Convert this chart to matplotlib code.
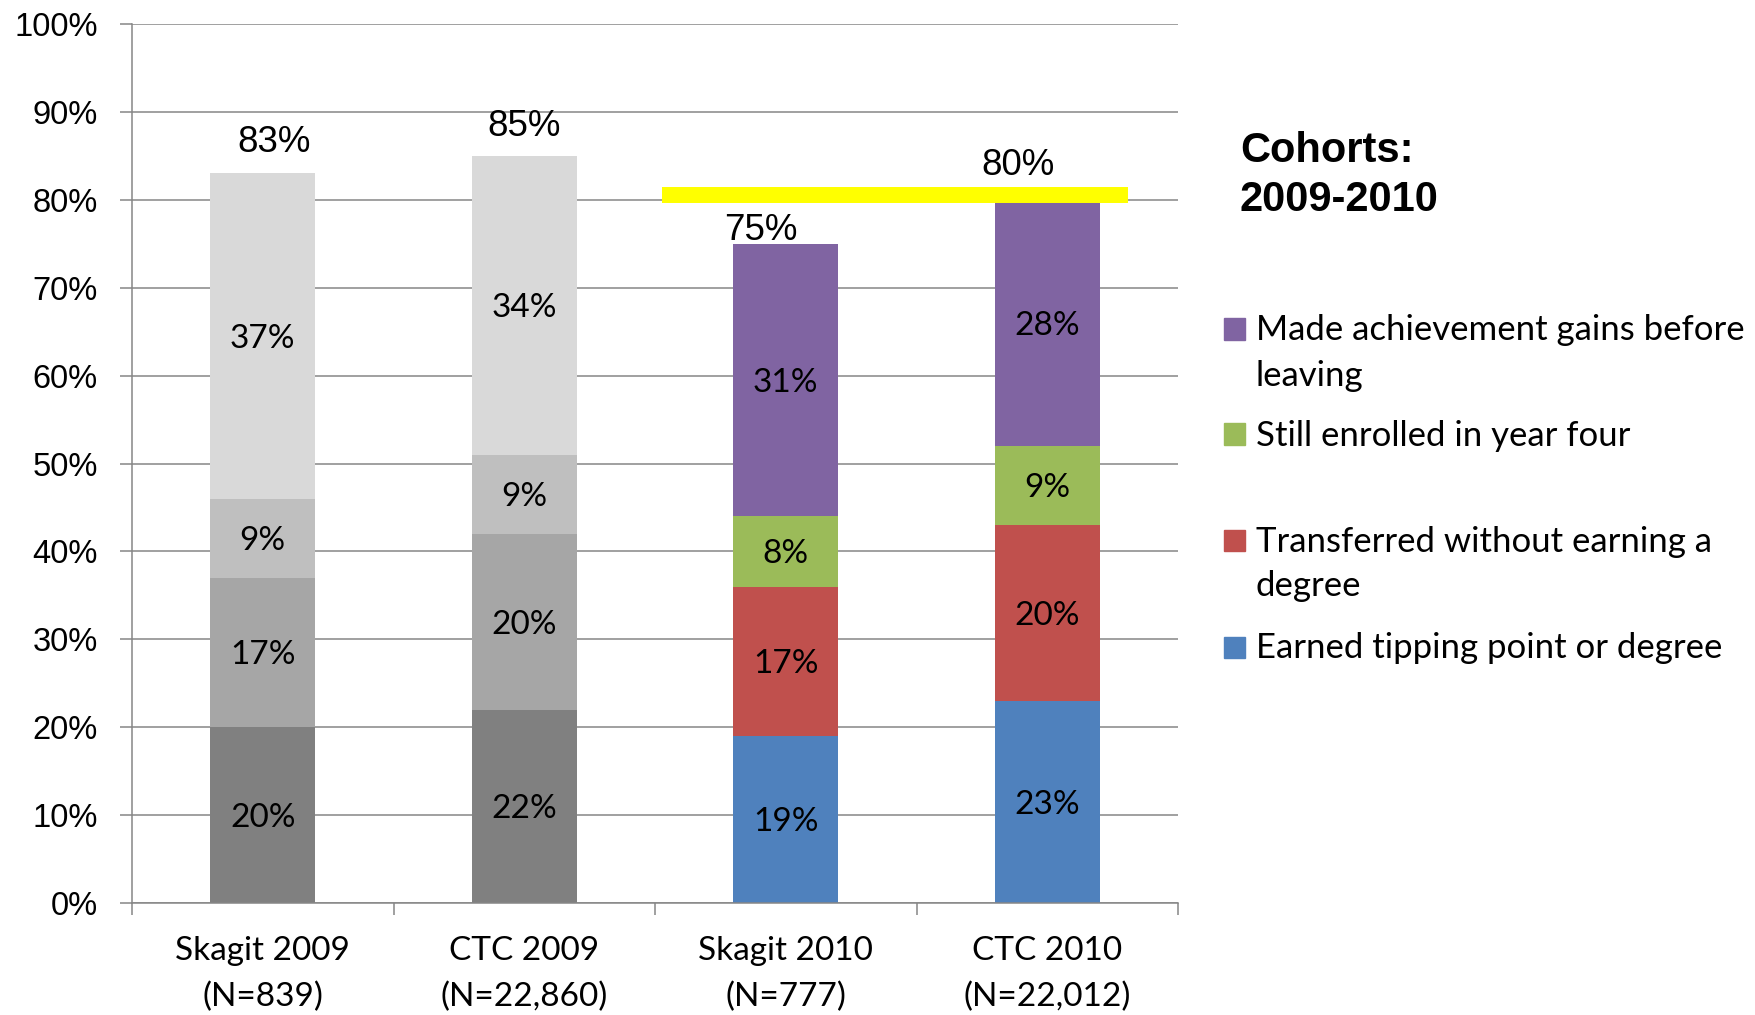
import matplotlib
matplotlib.use("Agg")
import matplotlib.pyplot as plt
import matplotlib.transforms as mtransforms
import numpy as np

# ---------------- data ----------------
categories = ["Skagit 2009", "CTC 2009", "Skagit 2010", "CTC 2010"]
cohort_sizes = ["(N=839)", "(N=22,860)", "(N=777)", "(N=22,012)"]
earned = [20, 22, 19, 23]
transferred = [17, 20, 17, 20]
still_enrolled = [9, 9, 8, 9]
gains = [37, 34, 31, 28]
totals = [83, 85, 75, 80]
series_names = ["Made achievement gains before\nleaving",
                "Still enrolled in year four",
                "Transferred without earning a\ndegree",
                "Earned tipping point or degree"]
y_ticks = [0, 10, 20, 30, 40, 50, 60, 70, 80, 90, 100]
legend_title = "Cohorts:\n2009-2010"

# ---------------- style ----------------
W, H = 1756, 1015
DPI = 100
gray_cols = ["#808080", "#A6A6A6", "#BFBFBF", "#D9D9D9"]   # bottom -> top
color_cols = ["#4F81BD", "#C0504D", "#9BBB59", "#8064A2"]  # bottom -> top
bar_colors = [gray_cols, gray_cols, color_cols, color_cols]
grid_col = "#868686"
ARIAL = ["Liberation Sans", "DejaVu Sans"]
CALIBRI = ["Lato", "DejaVu Sans"]

fig = plt.figure(figsize=(W / DPI, H / DPI), dpi=DPI)
ax = fig.add_axes([132 / W, 1 - 903 / H, (1178 - 132) / W, (903 - 24) / H])

data_shift = mtransforms.offset_copy(ax.transData, fig=fig, x=0, y=-3, units="dots")

x = np.arange(len(categories))
stack = [earned, transferred, still_enrolled, gains]
bottom = np.zeros(len(categories))
for li, vals in enumerate(stack):
    vals = np.array(vals, dtype=float) / 100.0
    cols = [bar_colors[i][li] for i in range(len(categories))]
    ax.bar(x, vals, width=0.4, bottom=bottom, color=cols, edgecolor="none", zorder=2)
    for i, v in enumerate(vals):
        ax.text(x[i], bottom[i] + v / 2, f"{int(round(v * 100))}%", ha="center", va="center",
                fontsize=24, family=CALIBRI, color="black", zorder=4, transform=data_shift)
    bottom = bottom + vals

# total labels (offsets in data units, as placed in the reference)
tot_dx = [0.042, 0.0, -0.096, -0.11]
tot_dy = [0.039, 0.037, 0.019, 0.043]
for i, t in enumerate(totals):
    ax.text(x[i] + tot_dx[i], t / 100 + tot_dy[i], f"{t}%", ha="center", va="center",
            fontsize=26.5, family=ARIAL, color="black", zorder=4, transform=data_shift)

# yellow highlight line
ax.plot([1.527, 3.309], [0.8055, 0.8055], color="#FFFF00", lw=11.5,
        solid_capstyle="butt", zorder=3, clip_on=False)

ax.set_xlim(-0.5, 3.5)
ax.set_ylim(0, 1)
ax.set_yticks([v / 100 for v in y_ticks])
ax.set_yticklabels([f"{v}%" for v in y_ticks], family=ARIAL, fontsize=23.5)
ax.yaxis.grid(True, color=grid_col, lw=1.1, zorder=0)
ax.set_axisbelow(True)
ax.tick_params(axis="y", length=8.6, width=1.1, color=grid_col, pad=16)
ax.set_xticks(np.arange(-0.5, len(categories), 1.0))
ax.set_xticklabels([])
ax.tick_params(axis="x", length=8.6, width=1.1, color=grid_col, direction="out")
for s in ["top", "right"]:
    ax.spines[s].set_visible(False)
for s in ["left", "bottom"]:
    ax.spines[s].set_color(grid_col)
    ax.spines[s].set_linewidth(1.1)

# category labels
tr = mtransforms.blended_transform_factory(ax.transData, fig.transFigure)
for i in range(len(categories)):
    ax.text(x[i], 1 - 951.5 / H, categories[i], transform=tr, ha="center", va="center",
            fontsize=24, family=CALIBRI)
    ax.text(x[i], 1 - 996.5 / H, cohort_sizes[i], transform=tr, ha="center", va="center",
            fontsize=24, family=CALIBRI)

# legend title
for j, line in enumerate(legend_title.split("\n")):
    fig.text(1240 / W, 1 - (151 + 49 * j) / H, line, ha="left", va="center",
             fontsize=30, fontweight="bold", family=ARIAL)

# legend entries (top -> bottom: gains, still enrolled, transferred, earned)
legend_cols = [color_cols[3], color_cols[2], color_cols[1], color_cols[0]]
legend_y = [329, 434, 540, 647]
for k, name in enumerate(series_names):
    yc = legend_y[k]
    fig.patches.append(plt.Rectangle((1224 / W, 1 - (yc + 10.5) / H), 21 / W, 21 / H,
                                     transform=fig.transFigure, color=legend_cols[k],
                                     figure=fig))
    for j, line in enumerate(name.split("\n")):
        fig.text(1256 / W, 1 - (yc + 1.5 + 45 * j) / H, line, ha="left", va="center",
                 fontsize=25, family=CALIBRI)

fig.savefig("out.png", dpi=DPI)
